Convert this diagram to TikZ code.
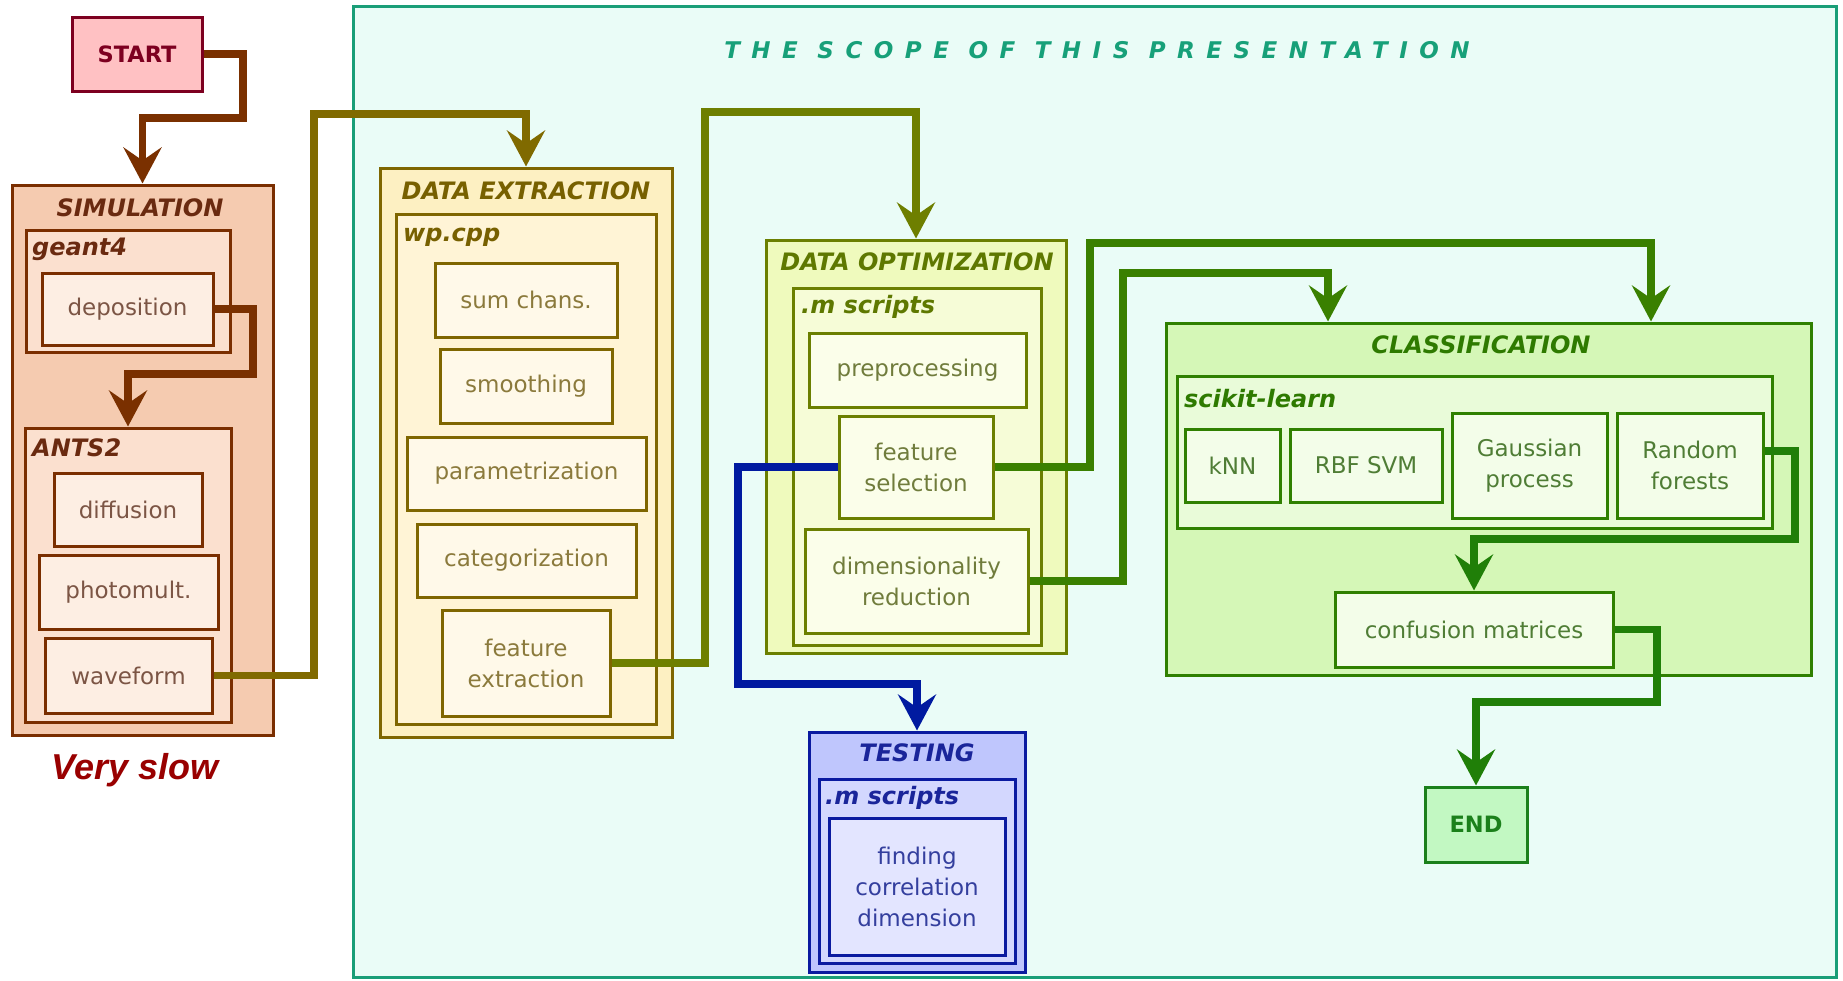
\documentclass[tikz,border=0pt]{standalone}
\usepackage{fontspec}
\setmainfont{DejaVu Sans}
\newfontfamily\vsfont{Liberation Sans}
\newfontfamily\scopefont[LetterSpace=50]{DejaVu Sans}
\usetikzlibrary{arrows.meta}
\definecolor{startFill}{HTML}{FFC1C3}\definecolor{startB}{HTML}{7D0020}
\definecolor{simB}{HTML}{7A2E00}\definecolor{simO}{HTML}{F5CBB0}\definecolor{simM}{HTML}{FBE0CF}\definecolor{simL}{HTML}{FDEEE3}\definecolor{simT}{HTML}{6A2A10}\definecolor{simLT}{HTML}{7C5545}
\definecolor{dexB}{HTML}{7F6600}\definecolor{dexO}{HTML}{FDF0C2}\definecolor{dexM}{HTML}{FFF4D6}\definecolor{dexL}{HTML}{FFF9E9}\definecolor{dexT}{HTML}{776000}\definecolor{dexLT}{HTML}{8B7A3C}
\definecolor{doptB}{HTML}{6B7F00}\definecolor{doptO}{HTML}{EFFABD}\definecolor{doptM}{HTML}{F6FCD7}\definecolor{doptL}{HTML}{FBFEEA}\definecolor{doptT}{HTML}{5E7800}\definecolor{doptLT}{HTML}{707C3C}
\definecolor{clsB}{HTML}{2F8000}\definecolor{clsO}{HTML}{D5F7B7}\definecolor{clsM}{HTML}{E9FBD9}\definecolor{clsL}{HTML}{F3FDE9}\definecolor{clsT}{HTML}{2E7A00}\definecolor{clsLT}{HTML}{4F7D35}
\definecolor{tstB}{HTML}{0A1AA0}\definecolor{tstO}{HTML}{BFC6FD}\definecolor{tstM}{HTML}{D3D7FE}\definecolor{tstL}{HTML}{E3E5FF}\definecolor{tstT}{HTML}{1A259A}\definecolor{tstLT}{HTML}{343F9E}
\definecolor{endFill}{HTML}{C2F8C2}\definecolor{endB}{HTML}{1B801B}
\definecolor{scopeB}{HTML}{1A9E78}\definecolor{scopeFill}{HTML}{EAFCF7}\definecolor{scopeT}{HTML}{17A079}
\definecolor{cBrown}{HTML}{7A3000}\definecolor{cOlive}{HTML}{806A00}\definecolor{cOlGreen}{HTML}{6E7F00}
\definecolor{cGreen}{HTML}{3A8000}\definecolor{cDGreen}{HTML}{207F08}\definecolor{cBlue}{HTML}{001AA0}
\definecolor{vsRed}{HTML}{990000}
\newcommand\leaff{\fontsize{23}{31}\selectfont}
\newcommand\ttlf{\fontsize{24}{28}\selectfont\bfseries\itshape}
\begin{document}
\begin{tikzpicture}[x=1pt,y=-1pt,
  cont/.style={rectangle, line width=3pt, inner sep=0pt},
  leaf/.style={rectangle, draw, line width=3pt, inner sep=0pt, align=center, font=\leaff},
  ttl/.style={inner sep=0pt, font=\ttlf},
  sub/.style={inner sep=0pt, font=\ttlf, anchor=west},
  simleaf/.style={leaf, draw=simB, fill=simL, text=simLT},
  dexleaf/.style={leaf, draw=dexB, fill=dexL, text=dexLT},
  doptleaf/.style={leaf, draw=doptB, fill=doptL, text=doptLT},
  clsleaf/.style={leaf, draw=clsB, fill=clsL, text=clsLT},
  tstleaf/.style={leaf, draw=tstB, fill=tstL, text=tstLT},
  conn/.style={line width=7.5pt, line join=miter, -{Stealth[length=36pt,width=38pt,inset=13pt]}}
]
\useasboundingbox (0,0) rectangle (1843,980);
\fill[white] (0,0) rectangle (1843,980);

% scope
\node[cont, draw=scopeB, fill=scopeFill, minimum width=1483pt, minimum height=971pt] (scope) at (1094.5,491.5) {};
\node[inner sep=0pt, text=scopeT, font=\scopefont\fontsize{23}{26}\selectfont\bfseries\itshape] (scopettl) at (1097,50) {THE SCOPE OF THIS PRESENTATION};

% start
\node[rectangle, draw=startB, fill=startFill, line width=3pt, minimum width=130pt, minimum height=74pt, text=startB, font=\fontsize{22.5}{26}\selectfont\bfseries] (start) at (137,54) {START};

% simulation
\node[cont, draw=simB, fill=simO, minimum width=261pt, minimum height=550pt] (sim) at (142.5,460) {};
\node[ttl, text=simT] (simttl) at (140,208) {SIMULATION};
\node[cont, draw=simB, fill=simM, minimum width=204pt, minimum height=122pt] (geant) at (128,291) {};
\node[sub, text=simT] (geantttl) at (32,249) {geant4};
\node[simleaf, minimum width=171pt, minimum height=72pt] (dep) at (127.5,309) {deposition};
\node[cont, draw=simB, fill=simM, minimum width=206pt, minimum height=294pt] (ants) at (128,575) {};
\node[sub, text=simT] (antsttl) at (32,448) {ANTS2};
\node[simleaf, minimum width=148pt, minimum height=73pt] (diff) at (128,509.5) {diffusion};
\node[simleaf, minimum width=179pt, minimum height=74pt] (phot) at (128.5,592) {photomult.};
\node[simleaf, minimum width=167pt, minimum height=75pt] (wave) at (128.5,675.5) {waveform};
\node[inner sep=0pt, text=vsRed, font=\vsfont\fontsize{36}{40}\selectfont\bfseries\itshape] (slow) at (135,770) {Very slow};

% data extraction
\node[cont, draw=dexB, fill=dexO, minimum width=292pt, minimum height=569pt] (dex) at (526,452.5) {};
\node[ttl, text=dexT] (dexttl) at (526,191) {DATA EXTRACTION};
\node[cont, draw=dexB, fill=dexM, minimum width=260pt, minimum height=510pt] (wp) at (526,469) {};
\node[sub, text=dexT] (wpttl) at (403,237) {wp.cpp};
\node[dexleaf, minimum width=182pt, minimum height=74pt] (sum) at (526,300) {sum chans.};
\node[dexleaf, minimum width=172pt, minimum height=74pt] (smooth) at (526,386.5) {smoothing};
\node[dexleaf, minimum width=239pt, minimum height=73pt] (param) at (526.5,473.5) {parametrization};
\node[dexleaf, minimum width=219pt, minimum height=73pt] (categ) at (526.5,560.5) {categorization};
\node[dexleaf, minimum width=168pt, minimum height=106pt] (fext) at (526,663) {feature\\extraction};

% data optimization
\node[cont, draw=doptB, fill=doptO, minimum width=300pt, minimum height=413pt] (dopt) at (916,446.5) {};
\node[ttl, text=doptT] (doptttl) at (917,262) {DATA OPTIMIZATION};
\node[cont, draw=doptB, fill=doptM, minimum width=248pt, minimum height=357pt] (msc) at (917,466.5) {};
\node[sub, text=doptT] (mscttl) at (801,307) {.m scripts};
\node[doptleaf, minimum width=217pt, minimum height=74pt] (prep) at (917.5,370) {preprocessing};
\node[doptleaf, minimum width=154pt, minimum height=102pt] (fsel) at (916,467) {feature\\selection};
\node[doptleaf, minimum width=223pt, minimum height=104pt] (dred) at (916.5,581) {dimensionality\\reduction};

% testing
\node[cont, draw=tstB, fill=tstO, minimum width=216pt, minimum height=240pt] (tst) at (917,852) {};
\node[ttl, text=tstT] (tstttl) at (917,753) {TESTING};
\node[cont, draw=tstB, fill=tstM, minimum width=196pt, minimum height=184pt] (tsc) at (917,871) {};
\node[sub, text=tstT] (tscttl) at (825,798) {.m scripts};
\node[tstleaf, minimum width=176pt, minimum height=137pt] (find) at (917,886.5) {finding\\correlation\\dimension};

% classification
\node[cont, draw=clsB, fill=clsO, minimum width=645pt, minimum height=352pt] (cls) at (1488.5,499) {};
\node[ttl, text=clsT] (clsttl) at (1481,345) {CLASSIFICATION};
\node[cont, draw=clsB, fill=clsM, minimum width=595pt, minimum height=152pt] (skl) at (1474.5,452) {};
\node[sub, text=clsT] (sklttl) at (1184,399) {scikit-learn};
\node[clsleaf, minimum width=95pt, minimum height=73pt] (knn) at (1232.5,465.5) {kNN};
\node[clsleaf, minimum width=152pt, minimum height=73pt] (rbf) at (1366,465.5) {RBF SVM};
\node[clsleaf, minimum width=155pt, minimum height=105pt] (gp) at (1529.5,465.5) {Gaussian\\process};
\node[clsleaf, minimum width=146pt, minimum height=105pt] (rf) at (1690,465.5) {Random\\forests};
\node[clsleaf, minimum width=278pt, minimum height=75pt] (conf) at (1474,629.5) {confusion matrices};
\node[rectangle, draw=endB, fill=endFill, line width=3pt, minimum width=102pt, minimum height=75pt, text=endB, font=\fontsize{22.5}{26}\selectfont\bfseries] (endbox) at (1476,824.5) {END};

% connectors
\coordinate (a1) at (243,118);
\draw[conn, cBrown] (start.east) -| (a1) -| (sim.north);
\coordinate (a2) at (253,374);
\draw[conn, cBrown] (dep.east) -| (a2) -| (ants.north);
\coordinate (a3) at (314,114);
\draw[conn, cOlive] (wave.east) -| (a3) -| (dex.north);
\coordinate (a4) at (705,112);
\draw[conn, cOlGreen] (fext.east) -| (a4) -| (dopt.north);
\coordinate (a5) at (1090,243);
\coordinate (a5e) at (1651,0);
\draw[conn, cGreen] (fsel.east) -| (a5) -| (cls.north -| a5e);
\coordinate (a6) at (1123,273);
\coordinate (a6e) at (1328,0);
\draw[conn, cGreen] (dred.east) -| (a6) -| (cls.north -| a6e);
\coordinate (a7) at (1795,451);
\coordinate (a7b) at (1795,539);
\draw[conn, cDGreen] (rf.east |- a7) -- (a7) -- (a7b) -| (conf.north);
\coordinate (a8) at (1657,702);
\draw[conn, cDGreen] (conf.east) -| (a8) -| (endbox.north);
\coordinate (a9) at (738,684);
\draw[conn, cBlue] (fsel.west) -| (a9) -| (tst.north);
\end{tikzpicture}
\end{document}
